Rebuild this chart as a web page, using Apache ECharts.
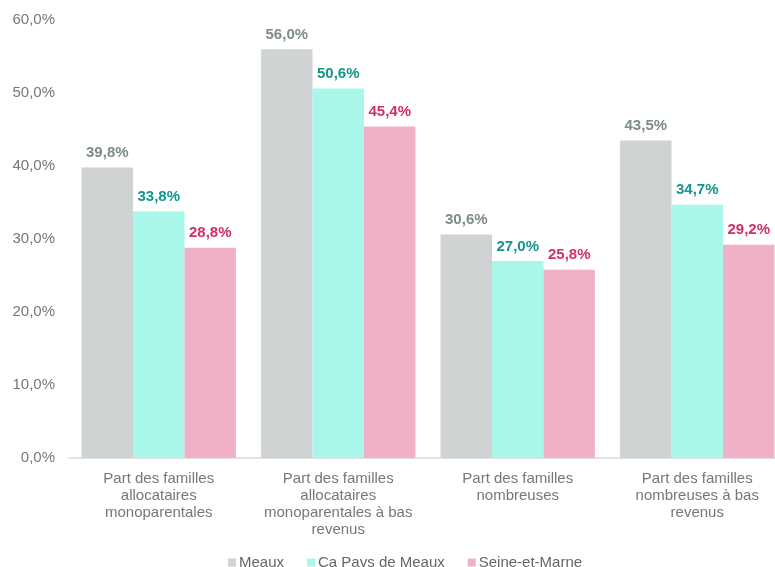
<!DOCTYPE html>
<html>
<head>
<meta charset="utf-8">
<script src="https://cdn.jsdelivr.net/npm/echarts@6/dist/echarts.min.js"></script>
<style>
  html, body { margin: 0; padding: 0; background: #ffffff; }
  #chart { width: 775px; height: 567px; }
</style>
</head>
<body>
<div id="chart"></div>
<script>
// Indicateurs familiaux (CAF)
const categories = [
  "Part des familles\nallocataires\nmonoparentales",
  "Part des familles\nallocataires\nmonoparentales à bas\nrevenus",
  "Part des familles\nnombreuses",
  "Part des familles\nnombreuses à bas\nrevenus"
];
const seriesNames = ["Meaux", "Ca Pays de Meaux", "Seine-et-Marne"];
const meaux = [39.8, 56.0, 30.6, 43.5];
const caPaysDeMeaux = [33.8, 50.6, 27.0, 34.7];
const seineEtMarne = [28.8, 45.4, 25.8, 29.2];
const yTicks = [0, 10, 20, 30, 40, 50, 60];

const barColors = ["#d0d3d4", "#a9f7ea", "#f0b1c8"];
const labelColors = ["#7d8a8a", "#13968b", "#d12f63"];
const fontFamily = "'Liberation Sans', Arial, sans-serif";

const fmt = v => v.toFixed(1).replace(".", ",") + "%";

const chart = echarts.init(document.getElementById("chart"), null, { renderer: "canvas" });

const values = [meaux, caPaysDeMeaux, seineEtMarne];

chart.setOption({
  animation: false,
  textStyle: { fontFamily },
  // plot area runs a little past the right edge of the canvas
  grid: { left: 69, width: 718, top: 20, bottom: 109, containLabel: false, outerBoundsMode: "none" },
  legend: {
    top: 550,
    left: 223,
    itemWidth: 8,
    itemHeight: 8,
    itemGap: 23,
    icon: "rect",
    textStyle: { color: "#666666", fontSize: 15, fontFamily, padding: [0, 0, 0, -2] },
    data: seriesNames
  },
  xAxis: {
    type: "category",
    data: categories,
    axisLine: { show: true, lineStyle: { color: "#d9d9d9", width: 1.5 } },
    axisTick: { show: false },
    axisLabel: {
      color: "#777777",
      fontSize: 15,
      lineHeight: 17,
      margin: 12,
      interval: 0,
      fontFamily
    }
  },
  yAxis: {
    type: "value",
    min: yTicks[0],
    max: yTicks[yTicks.length - 1],
    interval: 10,
    splitLine: { show: false },
    axisLine: { show: false },
    axisTick: { show: false },
    axisLabel: {
      color: "#777777",
      fontSize: 15,
      margin: 14,
      fontFamily,
      formatter: v => fmt(v)
    }
  },
  series: seriesNames.map((name, i) => ({
    name,
    type: "bar",
    data: values[i],
    barGap: "0%",
    barCategoryGap: "14%",
    itemStyle: { color: barColors[i] },
    label: {
      show: true,
      position: "top",
      distance: 7,
      color: labelColors[i],
      fontWeight: "bold",
      fontSize: 15,
      fontFamily,
      formatter: p => fmt(p.value)
    }
  }))
});
</script>
</body>
</html>
